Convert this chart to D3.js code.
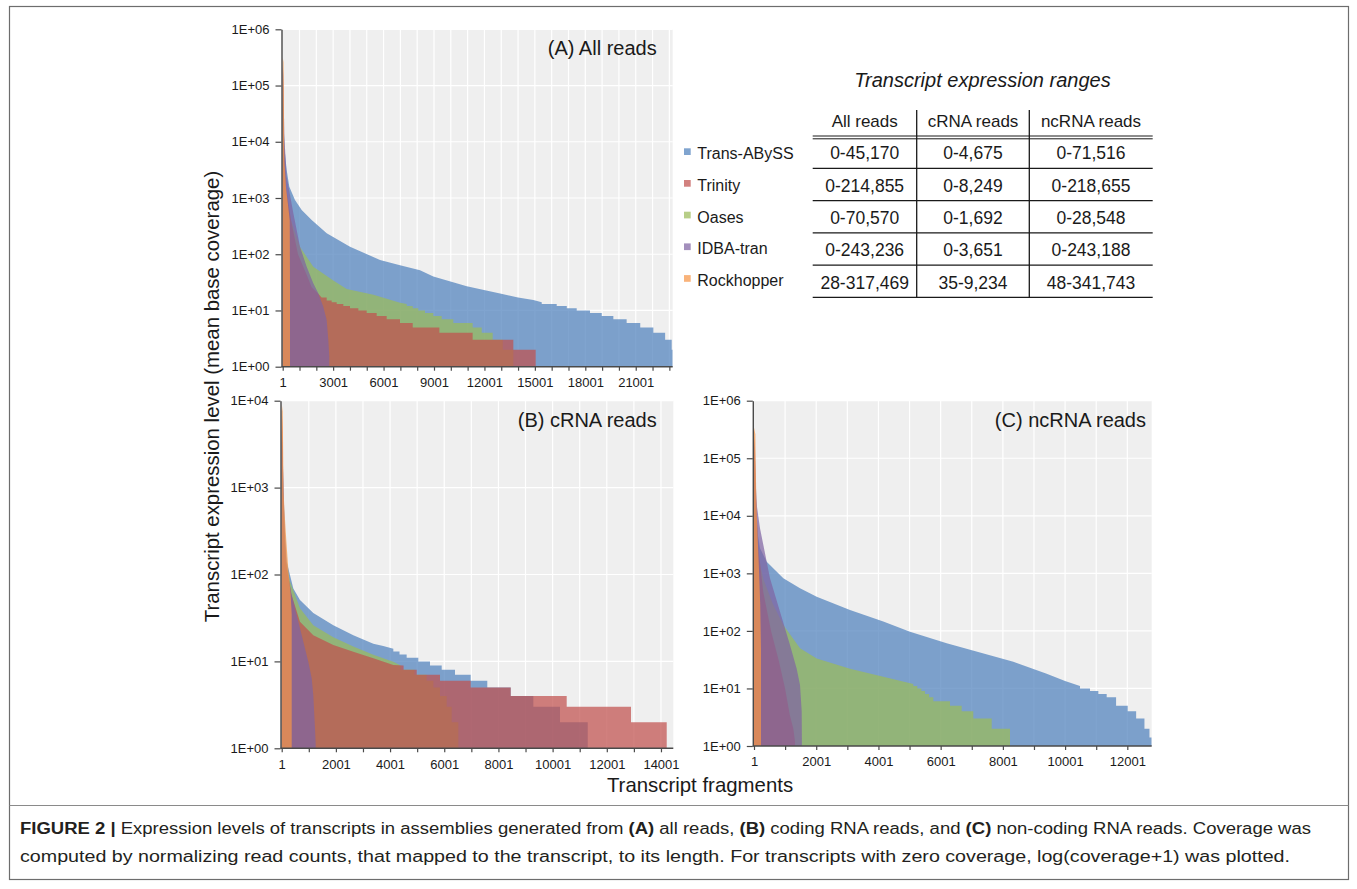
<!DOCTYPE html>
<html>
<head>
<meta charset="utf-8">
<script src="https://cdn.jsdelivr.net/npm/d3@7"></script>
<style>
  body { margin: 0; background: #fff; }
  svg { display: block; }
  text { font-family: "Liberation Sans", Arial, Helvetica, sans-serif; }
</style>
</head>
<body>
<svg id="chart" width="1357" height="889"></svg>
<script>
// ---------------- DATA ----------------
const seriesNames = ["Trans-ABySS", "Trinity", "Oases", "IDBA-tran", "Rockhopper"];
const seriesColors = ["#4F81BD", "#C0504D", "#9BBB59", "#8064A2", "#F79646"];

const tableTitle = "Transcript expression ranges";
const tableHeaders = ["All reads", "cRNA reads", "ncRNA reads"];
const rangesAll   = ["0-45,170", "0-214,855", "0-70,570", "0-243,236", "28-317,469"];
const rangesCRNA  = ["0-4,675", "0-8,249", "0-1,692", "0-3,651", "35-9,234"];
const rangesNcRNA = ["0-71,516", "0-218,655", "0-28,548", "0-243,188", "48-341,743"];

const panelTitles = ["(A) All reads", "(B) cRNA reads", "(C) ncRNA reads"];
const yAxisTitle = "Transcript expression level (mean base coverage)";
const xAxisTitle = "Transcript fragments";

// [transcript rank, mean base coverage]
// (A) all reads
const allTransABySS = [[1,45170],[40,30000],[70,16000],[138,6240],[238,3150],[395,1590],[732,922],[1130,613],[1725,406],[2618,236],[4005,136],[5790,79],[6980,64],[8170,52],[8960,40],[10950,27],[12930,20],[14000,17],[14910,15.4],[15410,14],[15410,13],[16300,13],[16300,12],[16900,12],[16900,11],[17490,11],[17490,10],[18280,10],[18280,9],[18980,9],[18980,8],[19670,8],[19670,7],[20460,7],[20460,6],[21270,6],[21270,5],[22050,5],[22050,4],[22750,4],[22750,3],[23140,3],[23140,2],[23200,2]];
const allTrinity = [[1,214855],[40,80000],[70,9000],[200,1500],[500,400],[910,100],[1400,45],[1725,26],[2100,20],[2319,17],[2617,17],[2617,15],[2914,15],[2914,14],[3212,14],[3212,13],[3608,13],[3608,12],[4005,12],[4005,11],[4500,11],[4500,10],[4996,10],[4996,9],[5591,9],[5591,8],[6186,8],[6186,7],[6979,7],[6979,6],[7735,6],[7735,5],[9320,5],[9320,4],[11300,4],[11300,3],[13720,3],[13720,2],[15050,2]];
const allOases = [[1,70570],[40,30000],[80,7000],[200,1200],[500,400],[1030,135],[1820,60],[3010,34],[3808,24],[5400,19],[6979,13.7],[7378,13],[7378,12],[7735,12],[7735,11],[8068,11],[8068,10],[8466,10],[8466,9],[8960,9],[8960,8],[9460,8],[9460,7],[10150,7],[10150,6],[11300,6],[11300,5],[11840,5],[11840,4],[12490,4],[12490,3],[13090,3],[13090,2],[13720,2]];
const allIDBA = [[1,243236],[40,150000],[70,40000],[100,12000],[238,2390],[635,535],[1030,136],[1428,60],[1820,30.4],[2118,20.2],[2416,11.7],[2617,6.8],[2714,3],[2773,1.5]];
const allRockhopper = [[1,317469],[50,260000],[70,90000],[85,15000],[100,4500],[200,1500],[330,700],[420,400],[435,28]];

// (B) cRNA reads
const cTransABySS = [[1,4675],[35,3000],[70,900],[125,300],[186,140],[430,69],[676,51],[1167,36],[1906,26],[2644,20],[3383,16],[3750,15],[4122,14],[4122,13],[4350,13],[4350,12],[4614,12],[4614,11],[5044,11],[5044,10],[5475,10],[5475,9],[5907,9],[5907,8],[6398,8],[6398,7],[6977,7],[6977,6],[7590,6],[7590,5],[8454,5],[8454,4],[9289,4],[9289,3],[10275,3],[10275,2],[11297,2]];
const cTrinity = [[1,8249],[35,4500],[60,900],[100,300],[150,140],[350,60],[676,28.6],[1167,20],[1906,15.4],[2644,12.9],[3383,10.9],[4120,9.1],[4500,9],[4500,8],[4985,8],[4985,7],[5845,7],[5845,6],[6977,6],[6977,5],[8454,5],[8454,4],[10521,4],[10521,3],[12895,3],[12895,2],[14213,2]];
const cOases = [[1,1692],[35,900],[70,400],[150,140],[307,83],[676,41],[1167,26],[1906,19],[2644,14.8],[3383,11.9],[4120,9.9],[4392,9],[4392,8],[4900,8],[4900,7],[5350,7],[5350,6],[5600,6],[5600,5],[5845,5],[5845,4],[6090,4],[6090,3],[6275,3],[6275,2],[6520,2]];
const cIDBA = [[1,3651],[35,2500],[70,800],[125,250],[186,118],[370,58],[676,24],[983,9.9],[1108,6.4],[1167,4.1],[1230,1.7],[1256,1.1]];
const cRockhopper = [[1,9234],[40,7500],[55,2500],[70,900],[110,500],[170,250],[250,110],[330,60],[370,35]];

// (C) ncRNA reads
const ncTransABySS = [[1,71516],[35,40000],[70,12000],[115,5000],[194,2720],[409,1595],[943,820],[1480,550],[2016,393],[3087,231],[4157,145],[5015,97],[6195,61],[8337,29],[9409,18],[10000,13.5],[10480,11],[10480,10],[10801,10],[10801,9],[11070,9],[11070,8],[11338,8],[11338,7],[11640,7],[11640,5],[12015,5],[12015,4],[12285,4],[12285,3],[12552,3],[12552,2],[12713,2],[12713,1.4],[12785,1.4]];
const ncTrinity = [[1,218655],[35,90000],[65,20000],[150,2500],[300,470],[550,100],[800,30],[1000,10],[1150,3.5],[1265,2],[1319,1.2]];
const ncOases = [[1,28548],[35,10000],[100,2500],[300,800],[600,300],[943,127],[1480,50],[2016,33],[3087,22],[4157,16],[5122,12],[5122,11],[5250,11],[5250,10],[5380,10],[5380,9],[5500,9],[5500,8],[5630,8],[5630,7],[5765,7],[5765,6],[6301,6],[6301,5],[6677,5],[6677,4],[7050,4],[7050,3],[7642,3],[7642,2],[8230,2]];
const ncIDBA = [[1,243188],[35,140000],[65,30000],[100,14000],[194,6070],[515,820],[837,216],[1158,57],[1373,22],[1480,11.5],[1534,4],[1540,1.2]];
const ncRockhopper = [[1,341743],[45,260000],[60,60000],[80,15000],[120,4000],[160,1200],[200,300],[226,48]];

const captionLine1 = [["FIGURE 2 |", true], [" Expression levels of transcripts in assemblies generated from ", false], ["(A)", true], [" all reads, ", false], ["(B)", true], [" coding RNA reads, and ", false], ["(C)", true], [" non-coding RNA reads. Coverage was", false]];
const captionLine2 = [["computed by normalizing read counts, that mapped to the transcript, to its length. For transcripts with zero coverage, log(coverage+1) was plotted.", false]];

// ---------------- LAYOUT ----------------
const svg = d3.select("#chart");
const drawOrder = [0, 2, 1, 3, 4];   // blue, green, red, purple, orange
const fillOpacity = 0.72;

const panels = [
  { title: panelTitles[0], data: [allTransABySS, allTrinity, allOases, allIDBA, allRockhopper],
    xMax: 23200, labelStep: 3000, yExp: 6, left: 282.7, right: 672.7, top: 29.3, bottom: 366.7, tx: 656.7, ty: 55 },
  { title: panelTitles[1], data: [cTransABySS, cTrinity, cOases, cIDBA, cRockhopper],
    xMax: 14456, labelStep: 2000, yExp: 4, left: 281.7, right: 673.3, top: 400.7, bottom: 748.3, tx: 656.7, ty: 427.3 },
  { title: panelTitles[2], data: [ncTransABySS, ncTrinity, ncOases, ncIDBA, ncRockhopper],
    xMax: 12785, labelStep: 2000, yExp: 6, left: 754, right: 1151.7, top: 400.7, bottom: 746, tx: 1146, ty: 427.3 }
];

// outer frame & caption separator
svg.append("rect").attr("x", 9.5).attr("y", 6.5).attr("width", 1339).attr("height", 873)
  .attr("fill", "none").attr("stroke", "#6d6d6d").attr("stroke-width", 1.2);
svg.append("line").attr("x1", 9.5).attr("x2", 1348.5).attr("y1", 805.5).attr("y2", 805.5)
  .attr("stroke", "#8a8a8a").attr("stroke-width", 1);

panels.forEach((p, pi) => {
  const x = d3.scaleLinear().domain([1, p.xMax]).range([p.left, p.right]);
  const y = d3.scaleLog().domain([1, Math.pow(10, p.yExp)]).range([p.bottom, p.top]);
  const g = svg.append("g");
  const axX = p.left - 1.2;   // axis line sits just left of the first category

  g.append("rect").attr("x", axX).attr("y", p.top)
    .attr("width", p.right - axX).attr("height", p.bottom - p.top).attr("fill", "#efefef");

  const xt = d3.range(1, p.xMax + 1, 1000);
  const yt = d3.range(0, p.yExp + 1).map(k => Math.pow(10, k));

  g.selectAll("line.vg").data(xt.slice(1)).join("line").attr("class", "vg")
    .attr("x1", d => x(d)).attr("x2", d => x(d)).attr("y1", p.top).attr("y2", p.bottom)
    .attr("stroke", "#ffffff").attr("stroke-width", 1.2);
  g.selectAll("line.hg").data(yt.slice(1)).join("line").attr("class", "hg")
    .attr("x1", axX).attr("x2", p.right).attr("y1", d => y(d)).attr("y2", d => y(d))
    .attr("stroke", "#ffffff").attr("stroke-width", 1.2);

  const clipId = "clip" + pi;
  g.append("clipPath").attr("id", clipId).append("rect")
    .attr("x", axX).attr("y", p.top).attr("width", p.right - axX).attr("height", p.bottom - p.top);

  const area = d3.area().x(d => x(d[0])).y0(y(1)).y1(d => y(Math.max(1, d[1])));
  const ga = g.append("g").attr("clip-path", `url(#${clipId})`);
  drawOrder.forEach(i => {
    ga.append("path").attr("d", area(p.data[i]))
      .attr("fill", seriesColors[i]).attr("fill-opacity", fillOpacity);
  });

  const yAxis = d3.axisLeft(y).tickValues(yt)
    .tickFormat(d => "1E+" + String(Math.round(Math.log10(d))).padStart(2, "0"))
    .tickSize(6).tickSizeOuter(0).tickPadding(6);
  const xAxis = d3.axisBottom(x).tickValues(xt)
    .tickFormat(d => ((d - 1) % p.labelStep === 0 ? String(d) : ""))
    .tickSize(4).tickSizeOuter(0).tickPadding(7);

  const gy = g.append("g").attr("transform", `translate(${axX},0)`).call(yAxis);
  const gx = g.append("g").attr("transform", `translate(0,${p.bottom})`).call(xAxis);
  gx.select(".domain").attr("d", `M${axX},0H${p.right}`);
  [gy, gx].forEach(ax => {
    ax.select(".domain").attr("stroke", "#4a4a4a").attr("stroke-width", 1.4);
    ax.selectAll(".tick line").attr("stroke", "#4a4a4a").attr("stroke-width", 1.2);
    ax.selectAll(".tick text").attr("fill", "#1a1a1a")
      .style("font-size", "13px").style("font-family", '"Liberation Sans", Arial, sans-serif');
  });

  g.append("text").attr("x", p.tx).attr("y", p.ty).attr("text-anchor", "end")
    .attr("fill", "#1a1a1a").style("font-size", "20px").text(p.title);
});

// axis titles
svg.append("text").attr("transform", "translate(218.5,396.5) rotate(-90)")
  .attr("text-anchor", "middle").attr("fill", "#1a1a1a").style("font-size", "20.4px").text(yAxisTitle);
svg.append("text").attr("x", 700).attr("y", 792).attr("text-anchor", "middle")
  .attr("fill", "#1a1a1a").style("font-size", "20.4px").text(xAxisTitle);

// legend
const legendBase = 159.3, legendStep = 31.7;
seriesNames.forEach((n, i) => {
  const by = legendBase + i * legendStep;
  svg.append("rect").attr("x", 684).attr("y", by - 11).attr("width", 6.7).attr("height", 6.7)
    .attr("fill", seriesColors[i]).attr("fill-opacity", fillOpacity);
  svg.append("text").attr("x", 697.3).attr("y", by).attr("fill", "#1a1a1a")
    .style("font-size", "16px").text(n);
});

// table
const tLeft = 812.7, tRight = 1152.7, colLines = [916.7, 1029.3];
const colCenters = [864.7, 973, 1091];
svg.append("text").attr("x", 982.5).attr("y", 86.7).attr("text-anchor", "middle")
  .attr("fill", "#1a1a1a").style("font-size", "20px").style("font-style", "italic").text(tableTitle);
tableHeaders.forEach((h, j) => {
  svg.append("text").attr("x", colCenters[j]).attr("y", 126.7).attr("text-anchor", "middle")
    .attr("fill", "#1a1a1a").style("font-size", "17px").text(h);
});
[136, 138.8].forEach(yy => svg.append("line").attr("x1", tLeft).attr("x2", tRight)
  .attr("y1", yy).attr("y2", yy).attr("stroke", "#1a1a1a").attr("stroke-width", 1));
const rowBase = 159.3, rowStep = 32.3, lineBase = 168.3, lineStep = 32.25;
const columns = [rangesAll, rangesCRNA, rangesNcRNA];
seriesNames.forEach((n, i) => {
  columns.forEach((col, j) => {
    svg.append("text").attr("x", colCenters[j]).attr("y", rowBase + i * rowStep)
      .attr("text-anchor", "middle").attr("fill", "#1a1a1a").style("font-size", "17.5px").text(col[i]);
  });
  const ly = lineBase + i * lineStep;
  svg.append("line").attr("x1", tLeft).attr("x2", tRight).attr("y1", ly).attr("y2", ly)
    .attr("stroke", "#1a1a1a").attr("stroke-width", 1.3);
});
colLines.forEach(cx => svg.append("line").attr("x1", cx).attr("x2", cx)
  .attr("y1", 110).attr("y2", lineBase + 4 * lineStep).attr("stroke", "#1a1a1a").attr("stroke-width", 1.3));

// caption
function captionLine(parts, yy, len) {
  const t = svg.append("text").attr("x", 20).attr("y", yy)
    .attr("textLength", len).attr("lengthAdjust", "spacingAndGlyphs")
    .attr("fill", "#231f20").style("font-size", "16px").style("white-space", "pre")
    .style("font-family", '"Liberation Sans Narrow", "Arial Narrow", "Liberation Sans", Arial, sans-serif');
  parts.forEach(([s, b]) => t.append("tspan").style("font-weight", b ? "bold" : "normal").text(s));
}
captionLine(captionLine1, 834, 1291);
captionLine(captionLine2, 862, 1270);
</script>
</body>
</html>
